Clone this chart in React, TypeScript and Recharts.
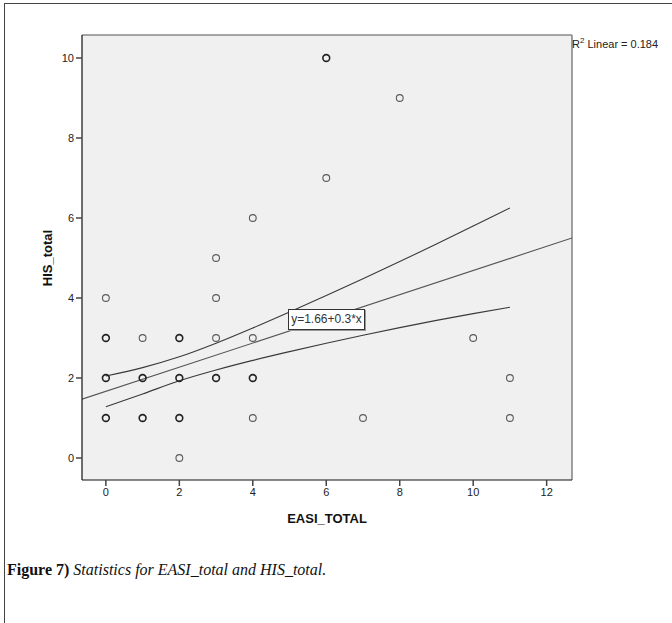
import React from "react"
import {
  ComposedChart,
  Scatter,
  Line,
  XAxis,
  YAxis,
  CartesianGrid,
  ReferenceLine,
} from "recharts"

// observed cases (EASI_TOTAL, HIS_total); n > 1 where circles overlap
const pointX = [0, 0, 0, 0, 1, 1, 1, 2, 2, 2, 2, 3, 3, 3, 3, 4, 4, 4, 4, 6, 6, 7, 8, 10, 11, 11]
const pointY = [1, 2, 3, 4, 1, 2, 3, 0, 1, 2, 3, 2, 3, 4, 5, 1, 2, 3, 6, 7, 10, 1, 9, 3, 1, 2]
const pointN = [2, 2, 2, 1, 2, 2, 1, 1, 2, 2, 2, 2, 1, 1, 1, 1, 2, 1, 1, 1, 2, 1, 1, 1, 1, 1]

// fit line and 95% band
const fitX = [-0.65, 12.69]
const fitY = [1.47, 5.5]
const bandX = [0, 1, 2, 3, 4, 5, 6, 7, 8, 9, 10, 11]
const upperBand = [2.05, 2.26, 2.53, 2.87, 3.25, 3.65, 4.06, 4.48, 4.91, 5.35, 5.8, 6.25]
const lowerBand = [1.28, 1.6, 1.93, 2.2, 2.44, 2.66, 2.87, 3.07, 3.26, 3.44, 3.61, 3.77]

const xTicks = [0, 2, 4, 6, 8, 10, 12]
const yTicks = [0, 2, 4, 6, 8, 10]

const X_MIN = -0.65
const X_MAX = 12.69
const Y_MIN = -0.55
const Y_MAX = 10.575

const points = pointX.map((x, i) => ({ x, y: pointY[i], n: pointN[i] }))
const fitData = fitX.map((x, i) => ({ x, y: fitY[i] }))
const upperData = bandX.map((x, i) => ({ x, y: upperBand[i] }))
const lowerData = bandX.map((x, i) => ({ x, y: lowerBand[i] }))

const sans = "'Liberation Sans', Arial, sans-serif"
const serif = "'Liberation Serif', 'Times New Roman', serif"

const Dot = (props: any) => {
  const { cx, cy, payload } = props
  if (cx == null || cy == null) return null
  const multi = payload.n > 1
  return (
    <circle
      cx={cx}
      cy={cy}
      r={3.4}
      fill="none"
      stroke={multi ? "#222" : "#5a5a5a"}
      strokeWidth={multi ? 1.6 : 1.1}
    />
  )
}

export default function App() {
  const tickStyle = { fill: "#222", fontSize: 11, fontFamily: sans }

  return (
    <div style={{ position: "absolute", left: 0, top: 0, width: 672, height: 623, background: "#fff", overflow: "hidden" }}>
      {/* page frame, open at right and bottom */}
      <div
        style={{
          position: "absolute",
          left: 4,
          top: 3,
          width: 700,
          height: 700,
          borderTop: "1.5px solid #444",
          borderLeft: "1.5px solid #444",
        }}
      />

      <div style={{ position: "absolute", left: 0, top: 0 }}>
        <ComposedChart width={672} height={540} margin={{ top: 35, right: 100, left: 42, bottom: 30 }}>
          <CartesianGrid fill="#f0f0f0" horizontal={false} vertical={false} stroke="none" />
          <XAxis
            dataKey="x"
            type="number"
            domain={[X_MIN, X_MAX]}
            ticks={xTicks}
            allowDataOverflow
            height={30}
            tick={tickStyle}
            axisLine={{ stroke: "#111", strokeWidth: 1.2 }}
            tickLine={{ stroke: "#444", strokeWidth: 1.5 }}
            tickSize={6}
          />
          <YAxis
            dataKey="y"
            type="number"
            domain={[Y_MIN, Y_MAX]}
            ticks={yTicks}
            allowDataOverflow
            width={40}
            tick={tickStyle}
            axisLine={{ stroke: "#111", strokeWidth: 1.2 }}
            tickLine={{ stroke: "#444", strokeWidth: 1.5 }}
            tickSize={6}
          />
          <ReferenceLine y={Y_MAX} stroke="#888" strokeWidth={1.6} />
          <ReferenceLine x={X_MAX} stroke="#888" strokeWidth={1.6} />
          <Line data={upperData} dataKey="y" type="monotone" stroke="#3a3a3a" strokeWidth={1.1} dot={false} activeDot={false} isAnimationActive={false} />
          <Line data={fitData} dataKey="y" type="linear" stroke="#555" strokeWidth={1.1} dot={false} activeDot={false} isAnimationActive={false} />
          <Line data={lowerData} dataKey="y" type="monotone" stroke="#3a3a3a" strokeWidth={1.1} dot={false} activeDot={false} isAnimationActive={false} />
          <Scatter data={points} dataKey="y" shape={<Dot />} isAnimationActive={false} />
        </ComposedChart>
      </div>

      {/* axis titles */}
      <div
        style={{
          position: "absolute",
          left: 47,
          top: 258,
          transform: "translate(-50%, -50%) rotate(-90deg)",
          fontFamily: sans,
          fontWeight: "bold",
          fontSize: 13,
          color: "#111",
          whiteSpace: "nowrap",
        }}
      >
        HIS_total
      </div>
      <div
        style={{
          position: "absolute",
          left: 327,
          top: 518,
          transform: "translate(-50%, -50%)",
          fontFamily: sans,
          fontWeight: "bold",
          fontSize: 13,
          color: "#111",
          whiteSpace: "nowrap",
        }}
      >
        EASI_TOTAL
      </div>

      {/* R² note */}
      <div style={{ position: "absolute", left: 572, top: 38, fontFamily: sans, fontSize: 11, color: "#222", whiteSpace: "nowrap" }}>
        R<sup style={{ fontSize: 8, verticalAlign: "super", lineHeight: 0 }}>2</sup> Linear = 0.184
      </div>

      {/* equation box */}
      <div
        style={{
          position: "absolute",
          left: 288,
          top: 309,
          width: 75,
          height: 19,
          background: "#fff",
          border: "1px solid #333",
          boxShadow: "1px 1px 0 #999",
          fontFamily: sans,
          fontSize: 12,
          color: "#333",
          lineHeight: "19px",
          textAlign: "center",
          whiteSpace: "nowrap",
        }}
      >
        y=1.66+0.3*x
      </div>

      {/* caption */}
      <div style={{ position: "absolute", left: 7, top: 561, fontFamily: serif, fontSize: 16, color: "#111", whiteSpace: "nowrap" }}>
        <span style={{ fontWeight: "bold" }}>Figure 7)</span>{" "}
        <span style={{ fontStyle: "italic" }}>Statistics for EASI_total and HIS_total.</span>
      </div>
    </div>
  )
}
